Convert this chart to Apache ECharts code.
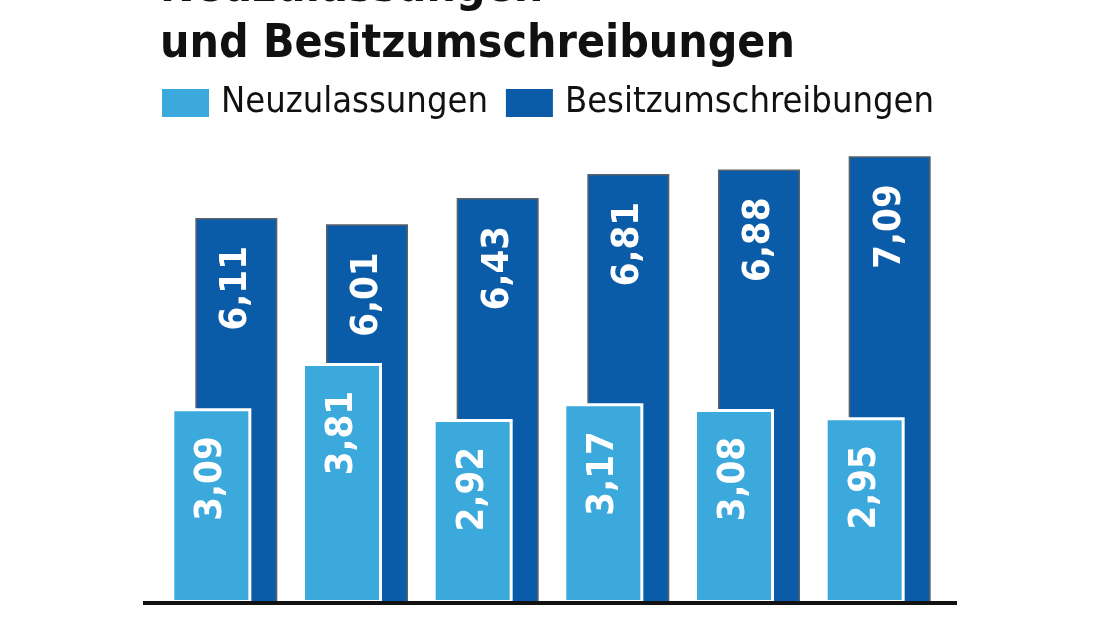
<!DOCTYPE html>
<html>
<head>
<meta charset="utf-8">
<script src="https://cdn.jsdelivr.net/npm/echarts@6/dist/echarts.min.js"></script>
<style>html,body{margin:0;padding:0;background:#fff}#c{width:1100px;height:619px}</style>
</head>
<body>
<div id="c"></div>
<script>
const categories = ['1', '2', '3', '4', '5', '6'];
const neuzulassungen = [3.09, 3.81, 2.92, 3.17, 3.08, 2.95];
const besitzumschreibungen = [6.11, 6.01, 6.43, 6.81, 6.88, 7.09];
const seriesNames = ['Neuzulassungen', 'Besitzumschreibungen'];
const titleText = 'Neuzulassungen\nund Besitzumschreibungen';

const fmt = v => v.toFixed(2).replace('.', ',');
const font = '"DejaVu Sans Condensed", "Liberation Sans Narrow", sans-serif';

const chart = echarts.init(document.getElementById('c'), null, {renderer: 'canvas'});
const labelCfg = {
  show: true,
  position: 'insideTop',
  rotate: 90,
  align: 'right',
  verticalAlign: 'middle',
  distance: 28,
  color: '#fff',
  fontFamily: font,
  fontWeight: 'bold',
  fontSize: 38,
  formatter: p => fmt(p.value)
};
chart.setOption({
  animation: false,
  backgroundColor: '#fff',
  title: {
    text: titleText,
    left: 155,
    top: -44,
    textStyle: {fontFamily: font, fontWeight: 'bold', fontSize: 46, lineHeight: 56, color: '#111'}
  },
  legend: {
    data: seriesNames,
    left: 162,
    top: 85,
    padding: 0,
    itemWidth: 47,
    itemHeight: 28,
    itemGap: 18,
    icon: 'rect',
    itemStyle: {borderWidth: 0},
    textStyle: {fontFamily: font, fontSize: 36, lineHeight: 28, color: '#111', padding: [0, 0, 0, 7]}
  },
  grid: {left: 159, right: 157, top: 99, bottom: 16},
  xAxis: {
    type: 'category',
    data: categories,
    axisLine: {show: false},
    axisTick: {show: false},
    axisLabel: {show: false}
  },
  yAxis: {
    type: 'value',
    min: 0,
    max: 8,
    show: false,
    splitLine: {show: false}
  },
  graphic: [{
    type: 'line',
    shape: {x1: 143, y1: 603, x2: 957, y2: 603},
    style: {stroke: '#111', lineWidth: 4},
    z: 10
  }],
  series: [
    {
      name: seriesNames[0],
      type: 'bar',
      data: neuzulassungen,
      barWidth: 80,
      barGap: '-70%',
      z: 3,
      itemStyle: {color: '#3ca9dc', borderColor: '#fff', borderWidth: 3},
      label: labelCfg
    },
    {
      name: seriesNames[1],
      type: 'bar',
      data: besitzumschreibungen,
      barWidth: 82,
      z: 2,
      itemStyle: {color: '#0b5ca8', borderColor: '#5a6068', borderWidth: 1.5},
      label: labelCfg
    }
  ]
});
</script>
</body>
</html>
